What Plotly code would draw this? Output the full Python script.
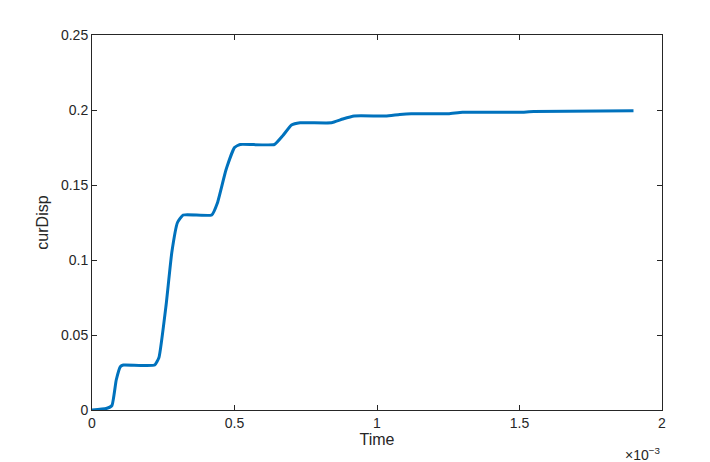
import plotly.graph_objects as go

time_ms = [0, 0.05, 0.07, 0.085, 0.1, 0.11, 0.22, 0.235, 0.26, 0.28, 0.30, 0.32, 0.42, 0.44, 0.47, 0.50, 0.52,
           0.64, 0.67, 0.70, 0.73, 0.84, 0.88, 0.92, 1.03, 1.08, 1.12, 1.25, 1.30, 1.50, 1.55, 1.9]
cur_disp = [0, 0.001, 0.003, 0.02, 0.029, 0.030, 0.030, 0.035, 0.07, 0.105, 0.125, 0.130, 0.130, 0.138, 0.16,
            0.175, 0.177, 0.177, 0.183, 0.19, 0.1915, 0.1915, 0.194, 0.196, 0.196, 0.197, 0.1975, 0.1975,
            0.1985, 0.1985, 0.199, 0.1995]
time = [t * 1e-3 for t in time_ms]
x_tickvals = [0, 0.5e-3, 1e-3, 1.5e-3, 2e-3]
x_ticktext = ["0", "0.5", "1", "1.5", "2"]
y_tickvals = [0, 0.05, 0.1, 0.15, 0.2, 0.25]
y_ticktext = ["0", "0.05", "0.1", "0.15", "0.2", "0.25"]

fig = go.Figure(go.Scatter(x=time, y=cur_disp, mode="lines",
                           line=dict(color="#0072BD", width=3, shape="spline", smoothing=0.4)))
ax = dict(showgrid=False, zeroline=False, showline=True, linecolor="#262626", linewidth=1,
          mirror="ticks", ticks="inside", ticklen=5, tickcolor="#262626",
          tickfont=dict(size=14, color="#262626"))
fig.update_xaxes(range=[0, 2e-3], tickvals=x_tickvals, ticktext=x_ticktext,
                 title=dict(text="Time", font=dict(size=16, color="#262626"), standoff=2), **ax)
fig.update_yaxes(range=[0, 0.25], tickvals=y_tickvals, ticktext=y_ticktext,
                 title=dict(text="curDisp", font=dict(size=16, color="#262626"), standoff=8), **ax)
fig.add_annotation(x=1, y=0, xref="paper", yref="paper", xanchor="right", yanchor="top", yshift=-33,
                   showarrow=False, text="×10<sup>−3</sup>", font=dict(size=14, color="#262626"))
fig.update_layout(width=710, height=462, margin=dict(l=84, r=56, t=27, b=60),
                  plot_bgcolor="white", paper_bgcolor="white",
                  font=dict(family="Liberation Sans, Arial, sans-serif"), showlegend=False)
fig.write_html("out.html")
